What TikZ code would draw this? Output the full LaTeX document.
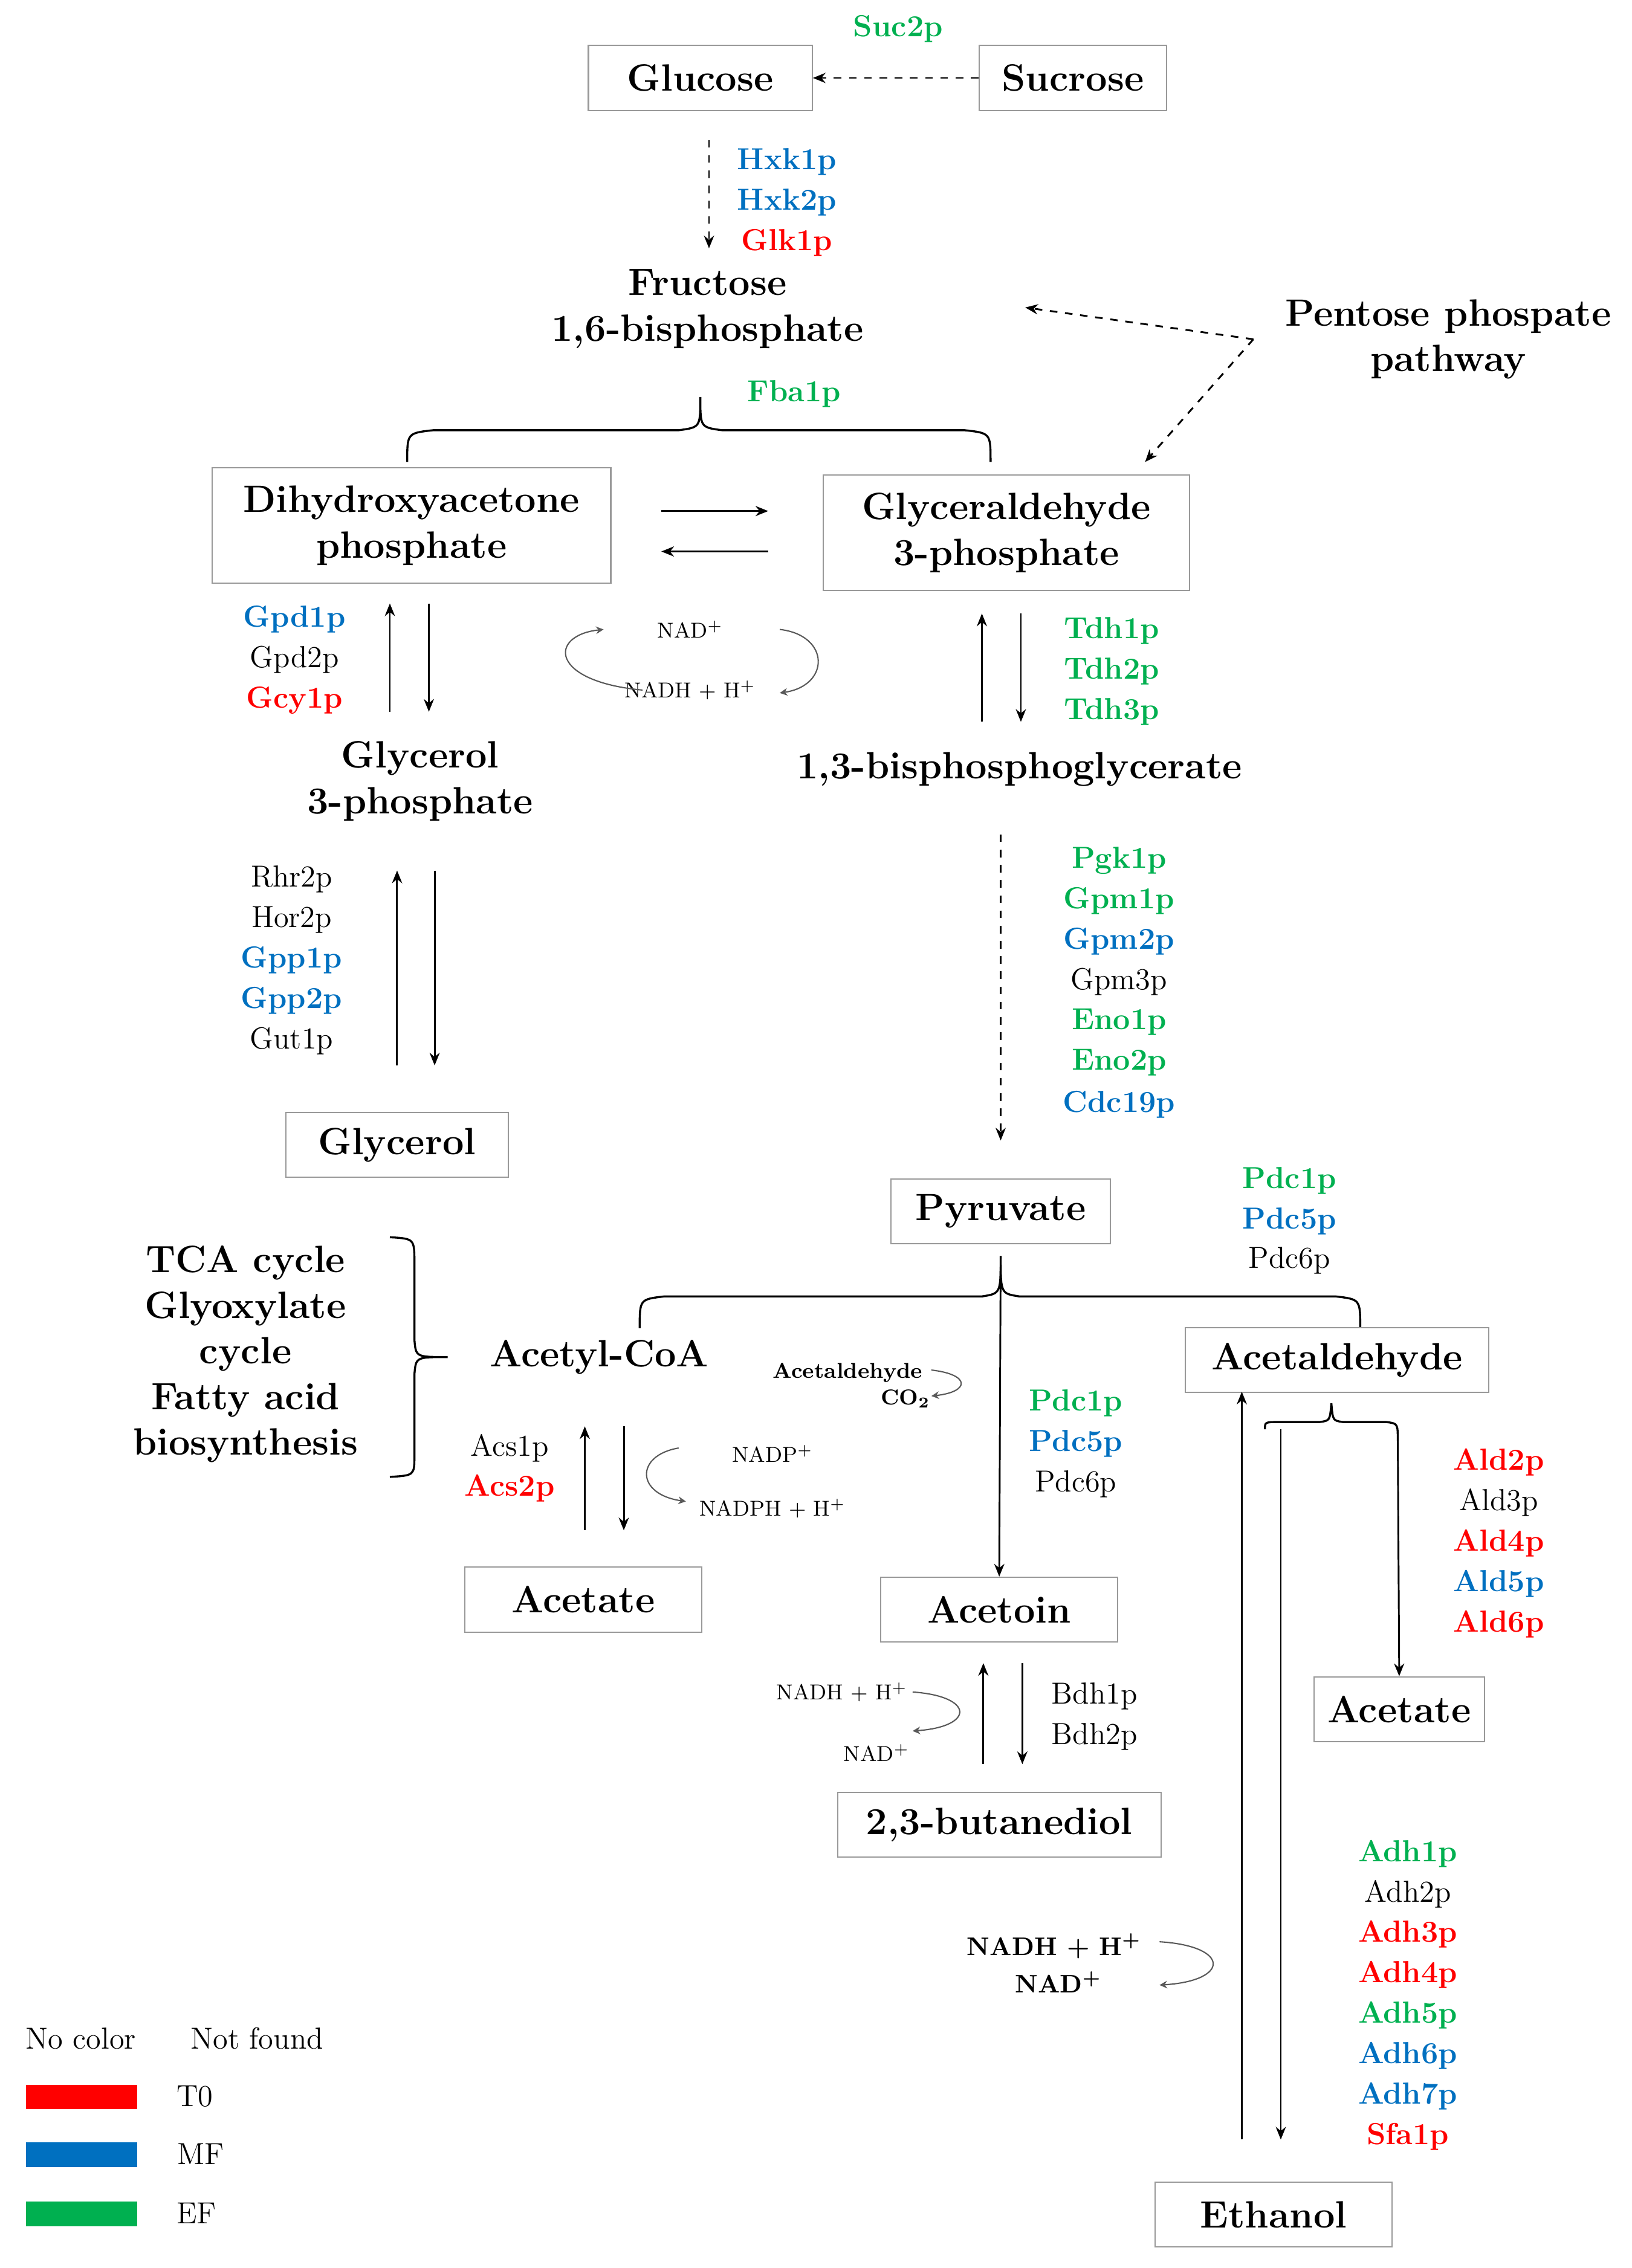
\documentclass[tikz,border=0pt]{standalone}
\usetikzlibrary{arrows.meta}
\definecolor{cr}{HTML}{FF0000}
\definecolor{cb}{HTML}{0070C0}
\definecolor{cg}{HTML}{00B050}
\begin{document}
\begin{tikzpicture}[x=0.02cm,y=-0.02cm,
  box/.style={draw=gray!80,line width=0.5pt,minimum height=0.9cm,inner sep=2pt,font=\fontsize{15}{18}\selectfont\bfseries},
  lab/.style={font=\fontsize{15}{18}\selectfont\bfseries,align=center,inner sep=1pt},
  enz/.style={font=\fontsize{12}{14}\selectfont,inner sep=1pt},
  R/.style={enz,text=cr,font=\fontsize{12}{14}\selectfont\bfseries},
  B/.style={enz,text=cb,font=\fontsize{12}{14}\selectfont\bfseries},
  G/.style={enz,text=cg,font=\fontsize{12}{14}\selectfont\bfseries},
  K/.style={enz},
  sm/.style={font=\fontsize{8.5}{10}\selectfont,inner sep=1pt},
  ar/.style={-{Stealth[length=5pt,width=4pt]},line width=0.7pt},
  da/.style={ar,dashed},
  cyc/.style={-{Stealth[length=3pt,width=3pt]},gray!70!black,line width=0.5pt}]
\useasboundingbox (0,0) rectangle (1130,1571);
% top
\node[box,minimum width=3.1cm] (glc) at (485,54) {Glucose};
\node[box,minimum width=2.6cm] (suc) at (743,54) {Sucrose};
\node[G] (suc2) at (622,20) {Suc2p};
\draw[da] (suc.west) -- (glc.east);
\node[lab] (fbp) at (490,214) {Fructose\\1,6-bisphosphate};
\draw[da] (491,97) -- (491,172);
\node[B] (hxk1) at (545,112) {Hxk1p};
\node[B] (hxk2) at (545,140) {Hxk2p};
\node[R] (glk1) at (545,168) {Glk1p};
\node[lab] (ppp) at (1003,235) {Pentose phospate\\pathway};
\coordinate (pj) at (868,235);
\draw[da] (pj) -- (710,213);
\draw[da] (pj) -- (793,320);
\node[G] (fba1) at (550,273) {Fba1p};
\draw[line width=0.8pt] (282,320) .. controls (282,300) .. (300,298) -- (470,298) .. controls (485,296) .. (485,275) .. controls (485,296) .. (500,298) -- (668,298) .. controls (686,300) .. (686,320);
\node[box,minimum width=5.52cm,minimum height=1.6cm,lab] (dhap) at (285,364) {Dihydroxyacetone\\phosphate};
\node[box,minimum width=5.08cm,minimum height=1.6cm,lab] (ga3p) at (697,369) {Glyceraldehyde\\3-phosphate};
\draw[ar] (458,354) -- (532,354);
\draw[ar] (532,382) -- (458,382);
% glycerol branch
\node[B] (gpd1) at (204,429) {Gpd1p};
\node[K] (gpd2) at (204,457) {Gpd2p};
\node[R] (gcy1) at (204,485) {Gcy1p};
\draw[ar] (270,493) -- (270,418);
\draw[ar] (297,418) -- (297,493);
\node[sm] (nad1) at (478,436) {NAD\textsuperscript{+}};
\node[sm] (nadh1) at (478,478) {NADH + H\textsuperscript{+}};
\draw[cyc] (445,478) .. controls (380,472) and (380,440) .. (418,436);
\draw[cyc] (540,436) .. controls (575,440) and (575,475) .. (540,480);
\node[G] (tdh1) at (770,437) {Tdh1p};
\node[G] (tdh2) at (770,465) {Tdh2p};
\node[G] (tdh3) at (770,493) {Tdh3p};
\draw[ar] (680,500) -- (680,425);
\draw[ar] (707,425) -- (707,500);
\node[lab] (g3p) at (291,541) {Glycerol\\3-phosphate};
\node[lab] (bpg) at (706,533) {1,3-bisphosphoglycerate};
\node[K] (rhr2) at (202,609) {Rhr2p};
\node[K] (hor2) at (202,637) {Hor2p};
\node[B] (gpp1) at (202,665) {Gpp1p};
\node[B] (gpp2) at (202,693) {Gpp2p};
\node[K] (gut1) at (202,721) {Gut1p};
\draw[ar] (275,738) -- (275,603);
\draw[ar] (301,603) -- (301,738);
\node[box,minimum width=3.08cm] (gly) at (275,793) {Glycerol};
% lower glycolysis
\draw[da] (693,578) -- (693,790);
\node[G] (pgk1) at (775,596) {Pgk1p};
\node[G] (gpm1) at (775,624) {Gpm1p};
\node[B] (gpm2) at (775,652) {Gpm2p};
\node[K] (gpm3) at (775,680) {Gpm3p};
\node[G] (eno1) at (775,708) {Eno1p};
\node[G] (eno2) at (775,736) {Eno2p};
\node[B] (cdc19) at (775,765) {Cdc19p};
\node[box,minimum width=3.04cm] (pyr) at (693,839) {Pyruvate};
\node[G] (pdc1a) at (893,818) {Pdc1p};
\node[B] (pdc5a) at (893,846) {Pdc5p};
\node[K] (pdc6a) at (893,873) {Pdc6p};
\draw[line width=0.8pt] (443,920) .. controls (443,900) .. (460,898) -- (680,898) .. controls (693,896) .. (693,870) .. controls (693,896) .. (706,898) -- (925,898) .. controls (942,900) .. (942,920);
% TCA
\node[lab] (tca) at (170,938) {TCA cycle\\Glyoxylate\\cycle\\Fatty acid\\biosynthesis};
\draw[line width=0.8pt] (270,857) .. controls (287,858) .. (287,875) -- (287,928) .. controls (288,940) .. (310,940) .. controls (288,940) .. (287,952) -- (287,1008) .. controls (287,1022) .. (270,1023);
\node[lab] (acoa) at (415,940) {Acetyl-CoA};
\node[sm] (acald) at (587,951) {\bfseries Acetaldehyde};
\node[sm] (co2) at (627,969) {\bfseries CO\textsubscript{2}};
\draw[cyc] (645,949) .. controls (672,952) and (672,964) .. (645,967);
\node[box,minimum width=4.2cm] (acet) at (926,942) {Acetaldehyde};
\node[G] (pdc1b) at (745,972) {Pdc1p};
\node[B] (pdc5b) at (745,1000) {Pdc5p};
\node[K] (pdc6b) at (745,1028) {Pdc6p};
\node[K] (acs1) at (353,1003) {Acs1p};
\node[R] (acs2) at (353,1031) {Acs2p};
\draw[ar] (405,1060) -- (405,988);
\draw[ar] (432,988) -- (432,1060);
\node[sm] (nadp) at (535,1007) {NADP\textsuperscript{+}};
\node[sm] (nadph) at (535,1045) {NADPH + H\textsuperscript{+}};
\draw[cyc] (470,1003) .. controls (440,1008) and (440,1035) .. (475,1040);
\node[box,minimum width=3.28cm] (acetate1) at (404,1108) {Acetate};
\node[box,minimum width=3.28cm] (acetoin) at (692,1115) {Acetoin};
\draw[ar] (693,870) -- (acetoin.north);
\node[sm] (nadh2) at (583,1172) {NADH + H\textsuperscript{+}};
\node[sm] (nad2) at (607,1214) {NAD\textsuperscript{+}};
\draw[cyc] (632,1172) .. controls (675,1175) and (675,1196) .. (632,1199);
\draw[ar] (681,1222) -- (681,1152);
\draw[ar] (708,1152) -- (708,1222);
\node[K] (bdh1) at (758,1175) {Bdh1p};
\node[K] (bdh2) at (758,1203) {Bdh2p};
\node[box,minimum width=4.48cm] (btd) at (692,1264) {2,3-butanediol};
% acetaldehyde branch
\node[box,minimum width=2.36cm] (acetate2) at (969,1184) {Acetate};
\node[box,minimum width=3.28cm] (eth) at (882,1534) {Ethanol};
\draw[line width=0.8pt] (876,990) .. controls (876,985) .. (886,985) -- (914,985) .. controls (921,984) .. (922,972) .. controls (923,984) .. (930,985) -- (960,985) .. controls (968,986) .. (968,998);
\draw[ar] (968,998) -- (acetate2.north);
\draw[ar] (887,990) -- (887,1482);
\draw[ar] (860,1482) -- (860,964);
\node[R] (ald2) at (1038,1013) {Ald2p};
\node[K] (ald3) at (1038,1041) {Ald3p};
\node[R] (ald4) at (1038,1069) {Ald4p};
\node[B] (ald5) at (1038,1097) {Ald5p};
\node[R] (ald6) at (1038,1125) {Ald6p};
\node[G] (adh1) at (975,1284) {Adh1p};
\node[K] (adh2) at (975,1312) {Adh2p};
\node[R] (adh3) at (975,1340) {Adh3p};
\node[R] (adh4) at (975,1368) {Adh4p};
\node[G] (adh5) at (975,1396) {Adh5p};
\node[B] (adh6) at (975,1424) {Adh6p};
\node[B] (adh7) at (975,1452) {Adh7p};
\node[R] (sfa1) at (975,1480) {Sfa1p};
\node[sm,font=\fontsize{10}{12}\selectfont\bfseries] (nadh3) at (730,1348) {NADH + H\textsuperscript{+}};
\node[sm,font=\fontsize{10}{12}\selectfont\bfseries] (nad3) at (733,1373) {NAD\textsuperscript{+}};
\draw[cyc] (803,1345) .. controls (852,1348) and (852,1372) .. (803,1375);
% legend
\node[K] (nc) at (56,1412) {No color};
\node[K] (nf) at (178,1412) {Not found};
\fill[cr] (18,1444) rectangle (95,1461);
\fill[cb] (18,1484) rectangle (95,1501);
\fill[cg] (18,1525) rectangle (95,1542);
\node[K] (t0) at (135,1452) {T0};
\node[K] (mf) at (139,1492) {MF};
\node[K] (ef) at (136,1533) {EF};
\end{tikzpicture}
\end{document}
